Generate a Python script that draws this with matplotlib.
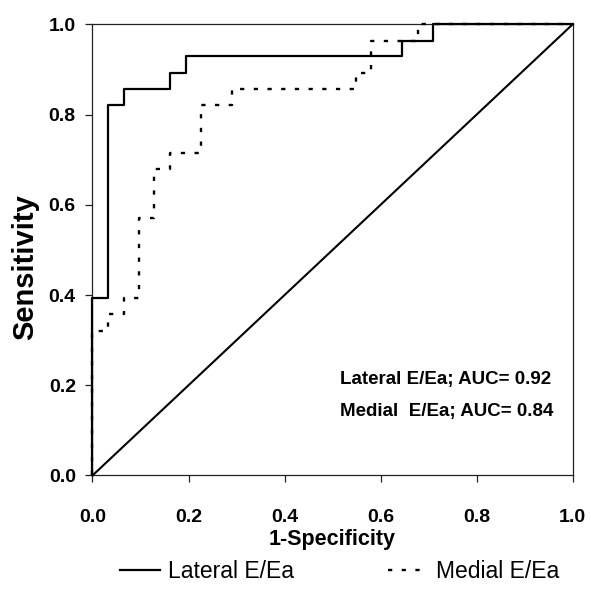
import matplotlib
matplotlib.use("Agg")
import matplotlib.pyplot as plt
from matplotlib.ticker import FormatStrFormatter

# ROC curves (step vertices: 1-specificity, sensitivity)
LAT_FPR = [0.0, 0.0, 0.032, 0.032, 0.065, 0.065, 0.161, 0.161, 0.194, 0.194,
           0.645, 0.645, 0.710, 0.710, 1.0]
LAT_TPR = [0.0, 0.393, 0.393, 0.821, 0.821, 0.857, 0.857, 0.893, 0.893, 0.929,
           0.929, 0.964, 0.964, 1.0, 1.0]
MED_FPR = [0.0, 0.0, 0.032, 0.032, 0.065, 0.065, 0.097, 0.097, 0.129, 0.129,
           0.161, 0.161, 0.226, 0.226, 0.290, 0.290, 0.548, 0.548, 0.581, 0.581,
           0.677, 0.677, 1.0]
MED_TPR = [0.0, 0.321, 0.321, 0.357, 0.357, 0.393, 0.393, 0.571, 0.571, 0.679,
           0.679, 0.714, 0.714, 0.821, 0.821, 0.857, 0.857, 0.893, 0.893, 0.964,
           0.964, 1.0, 1.0]
REF_X = [0.0, 1.0]
REF_Y = [0.0, 1.0]
TICKS = [0.0, 0.2, 0.4, 0.6, 0.8, 1.0]
AUC_LINES = ["Lateral E/Ea; AUC= 0.92", "Medial  E/Ea; AUC= 0.84"]
LEGEND_LABELS = ["Lateral E/Ea", "Medial E/Ea"]

plt.rcParams["font.family"] = ["Liberation Sans", "DejaVu Sans"]

fig = plt.figure(figsize=(5.91, 5.99), dpi=100)
ax = fig.add_axes([0.1565, 0.2062, 0.8125, 0.7532])

ax.plot(LAT_FPR, LAT_TPR, color="black", lw=1.6, clip_on=False, zorder=4,
        label=LEGEND_LABELS[0])
ax.plot(MED_FPR, MED_TPR, color="black", lw=1.7, dashes=(1.8, 4.0), clip_on=False,
        zorder=4, label=LEGEND_LABELS[1])
ax.plot(REF_X, REF_Y, color="black", lw=1.5, clip_on=False, zorder=3)

ax.set_xlim(0, 1)
ax.set_ylim(0, 1)
ax.set_xticks(TICKS)
ax.set_yticks(TICKS)
ax.xaxis.set_major_formatter(FormatStrFormatter("%.1f"))
ax.yaxis.set_major_formatter(FormatStrFormatter("%.1f"))
ax.tick_params(direction="out", length=5, width=0.9, color="#222222",
               labelsize=14)
ax.tick_params(axis="x", pad=19)
ax.tick_params(axis="y", pad=7)
for lab in ax.get_xticklabels() + ax.get_yticklabels():
    lab.set_fontweight("bold")
for s in ax.spines.values():
    s.set_color("#222222")
    s.set_linewidth(0.9)

ax.set_xlabel("1-Specificity", fontsize=15.5, fontweight="bold", labelpad=2)
ax.set_ylabel("Sensitivity", fontsize=21, fontweight="bold")
ax.yaxis.set_label_coords(-0.11, 0.462)

for i, txt in enumerate(AUC_LINES):
    ax.text(0.516, 0.212 - i * 0.071, txt, fontweight="bold",
            fontsize=13.5, ha="left", va="center")

handles, labels = ax.get_legend_handles_labels()
fig.legend(handles, labels, loc="center", bbox_to_anchor=(340 / 591, 1 - 572 / 599),
           ncol=2, frameon=False, handlelength=1.75, handletextpad=0.35,
           columnspacing=4.1, fontsize=16.5)

fig.savefig("out.png", dpi=100)
